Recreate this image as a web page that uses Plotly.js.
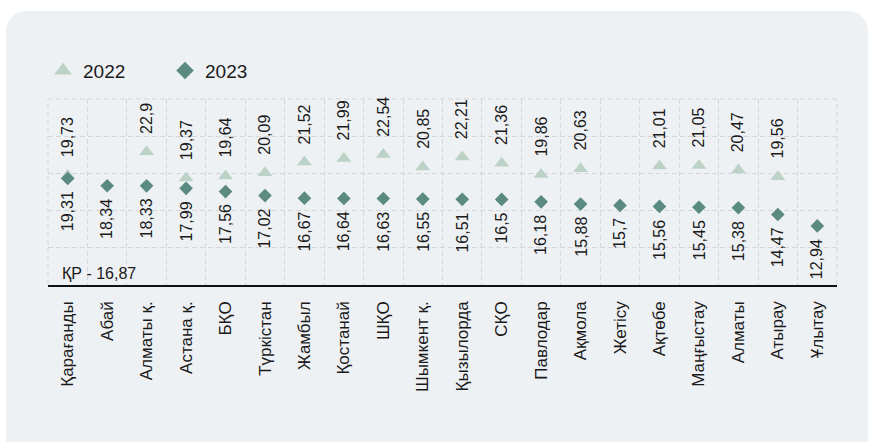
<!DOCTYPE html>
<html>
<head>
<meta charset="utf-8">
<script src="https://cdn.plot.ly/plotly-3.0.1.min.js"></script>
<style>
  html, body { margin:0; padding:0; background:#ffffff; }
  #panel { position:absolute; left:6px; top:11px; width:862px; height:460px; border-radius:20px; background:#eef1f4; }
  #chart { position:absolute; left:0; top:0; width:870px; height:442px; }
</style>
</head>
<body>
<div id="panel"></div>
<div id="chart"></div>
<script>
const regions = ["Қарағанды","Абай","Алматы қ.","Астана қ.","БҚО","Түркістан","Жамбыл","Қостанай","ШҚО","Шымкент қ.","Қызылорда","СҚО","Павлодар","Ақмола","Жетісу","Ақтөбе","Маңғыстау","Алматы","Атырау","Ұлытау"];
const values2022 = [19.73,null,22.9,19.37,19.64,20.09,21.52,21.99,22.54,20.85,22.21,21.36,19.86,20.63,null,21.01,21.05,20.47,19.56,null];
const values2023 = [19.31,18.34,18.33,17.99,17.56,17.02,16.67,16.64,16.63,16.55,16.51,16.5,16.18,15.88,15.7,15.56,15.45,15.38,14.47,12.94];
const seriesNames = ["2022","2023"];
const nationalLabel = "ҚР";
const nationalValue = 16.87;

const C22 = '#bdd2c6', C23 = '#5a8a80';
const GRID = '#d5d7da', GDASH = '5px,3px';
const FONT = '"Liberation Sans", Arial, sans-serif';
const fmt = v => String(v).replace('.', ',');

const traces = [
  {type:'scatter', mode:'markers', x:regions, y:values2022, name:seriesNames[0], showlegend:false,
   marker:{symbol:'triangle-up', size:13, color:C22}, hoverinfo:'skip'},
  {type:'scatter', mode:'markers', x:regions, y:values2023, name:seriesNames[1], showlegend:false,
   marker:{symbol:'diamond', size:10.5, color:C23}, hoverinfo:'skip'},
  {type:'scatter', mode:'markers', x:[null], y:[null], name:seriesNames[0], showlegend:true,
   marker:{symbol:'triangle-up', size:15.5, color:C22}},
  {type:'scatter', mode:'markers', x:[null], y:[null], name:seriesNames[1], showlegend:true,
   marker:{symbol:'diamond', size:13.5, color:C23}}
];

const annotations = [];
regions.forEach((r, i) => {
  if (values2022[i] !== null) {
    annotations.push({x:r, y:values2022[i], xref:'x', yref:'y', text:fmt(values2022[i]), textangle:-90,
      showarrow:false, xanchor:'center', yanchor:'bottom', yshift:16, font:{family:FONT, size:16, color:'#1a1a1a'}});
  }
  if (values2023[i] !== null) {
    annotations.push({x:r, y:values2023[i], xref:'x', yref:'y', text:fmt(values2023[i]), textangle:-90,
      showarrow:false, xanchor:'center', yanchor:'top', yshift:-11, font:{family:FONT, size:16, color:'#1a1a1a'}});
  }
});
annotations.push({xref:'paper', yref:'y', x:0, y:6.6, xshift:12, xanchor:'left', yanchor:'middle',
  text: nationalLabel + ' - ' + fmt(nationalValue), showarrow:false, font:{family:FONT, size:16, color:'#1a1a1a'}});

const edge = {color:GRID, width:1, dash:GDASH};
const shapes = [
  {type:'line', xref:'paper', yref:'paper', x0:0, x1:1, y0:1, y1:1, line:edge, layer:'below'},
  {type:'line', xref:'paper', yref:'paper', x0:0, x1:0, y0:0, y1:1, line:edge, layer:'below'},
  {type:'line', xref:'paper', yref:'paper', x0:1, x1:1, y0:0, y1:1, line:edge, layer:'below'}
];

const layout = {
  width:870, height:442,
  margin:{l:48, r:33, t:99, b:157},
  paper_bgcolor:'rgba(0,0,0,0)', plot_bgcolor:'rgba(0,0,0,0)',
  font:{family:FONT, color:'#1a1a1a'},
  showlegend:true,
  legend:{orientation:'h', xref:'container', yref:'container', x:43/870, y:1-70.7/442, xanchor:'left', yanchor:'middle',
    font:{family:FONT, size:19, color:'#1a1a1a'}, bgcolor:'rgba(0,0,0,0)', entrywidth:77, entrywidthmode:'pixels'},
  xaxis:{type:'category', range:[-0.5, regions.length-0.5], autorange:false, tickson:'boundaries', showgrid:true, gridcolor:GRID, griddash:GDASH, gridwidth:1,
    showline:true, linecolor:'#111111', linewidth:1.5, ticks:'', tickangle:-90, ticklabelstandoff:8,
    tickfont:{family:FONT, size:17, color:'#1a1a1a'}, zeroline:false, fixedrange:true},
  yaxis:{range:[5,30], autorange:false, dtick:5, tick0:0, showgrid:true, gridcolor:GRID, griddash:GDASH, gridwidth:1,
    showticklabels:false, ticks:'', zeroline:false, showline:false, fixedrange:true},
  shapes: shapes,
  annotations: annotations
};

Plotly.newPlot('chart', traces, layout, {displayModeBar:false, staticPlot:true});
</script>
</body>
</html>
